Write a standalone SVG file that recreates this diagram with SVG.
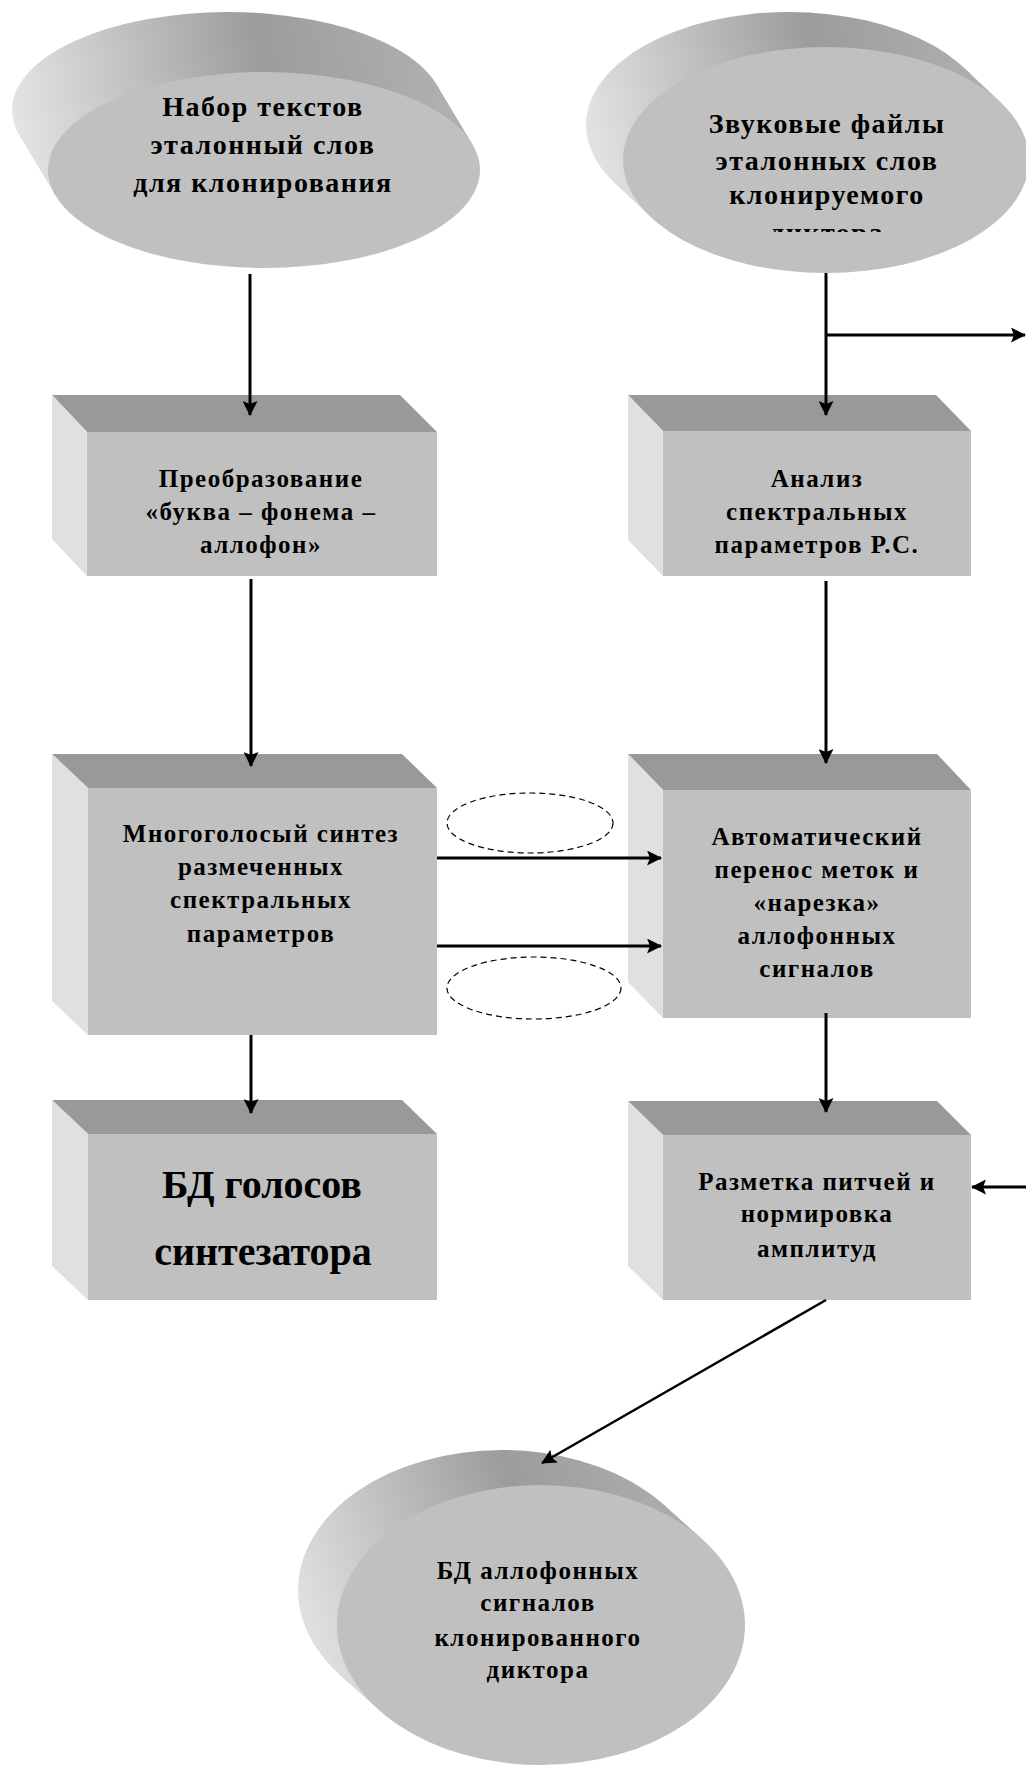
<svg xmlns="http://www.w3.org/2000/svg" width="1026" height="1768" viewBox="0 0 1026 1768">
<style>
.front{fill:#c0c0c0}
.top{fill:#999999}
.side{fill:#e0e0e0}
.t{font-family:"Liberation Serif","Times New Roman",serif;font-weight:bold;fill:#000;text-anchor:middle}
.e{font-size:28px;letter-spacing:1.5px}
.b{font-size:25px;letter-spacing:1.5px}
.big{font-size:40px}
.conn{stroke:#000;stroke-width:3;fill:none}
.thin{stroke-width:2.5}
.dash{stroke:#000;stroke-width:1.2;fill:none;stroke-dasharray:6 4}
</style>
<defs>
<marker id="ah" markerUnits="userSpaceOnUse" viewBox="0 0 15 15" markerWidth="15" markerHeight="15" refX="14" refY="7.5" orient="auto">
<path d="M0,0 L15,7.5 L0,15 L3,7.5 z" fill="#000"/>
</marker>
<linearGradient id="g1" gradientUnits="userSpaceOnUse" x1="12" y1="150" x2="480" y2="60">
<stop offset="0" stop-color="#e6e6e6"/><stop offset="0.55" stop-color="#9c9c9c"/><stop offset="1" stop-color="#b4b4b4"/>
</linearGradient>
<linearGradient id="g2" gradientUnits="userSpaceOnUse" x1="586" y1="170" x2="1026" y2="60">
<stop offset="0" stop-color="#e6e6e6"/><stop offset="0.55" stop-color="#9c9c9c"/><stop offset="1" stop-color="#b4b4b4"/>
</linearGradient>
<linearGradient id="g3" gradientUnits="userSpaceOnUse" x1="298" y1="1660" x2="745" y2="1500">
<stop offset="0" stop-color="#e6e6e6"/><stop offset="0.55" stop-color="#9c9c9c"/><stop offset="1" stop-color="#b4b4b4"/>
</linearGradient>
<clipPath id="clip2"><rect x="600" y="0" width="426" height="232"/></clipPath>
</defs>
<rect width="1026" height="1768" fill="#fff"/>

<g id="node-texts-set">
<ellipse cx="228" cy="110" rx="216" ry="98" fill="url(#g1)"/>
<polygon points="472.4,144.3 436.4,84.3 19.6,135.7 55.6,195.7" fill="url(#g1)"/>
<ellipse class="front" cx="264" cy="170" rx="216" ry="98"/>
<text class="t e" x="263" y="116">Набор текстов</text>
<text class="t e" x="263" y="154">эталонный слов</text>
<text class="t e" x="263" y="192">для клонирования</text>
</g>

<g id="node-sound-files">
<ellipse cx="789" cy="125" rx="203" ry="113" fill="url(#g2)"/>
<polygon points="1001,102.7 964,67.7 614,182.3 651,217.3" fill="url(#g2)"/>
<ellipse class="front" cx="826" cy="160" rx="203" ry="113"/>
<text class="t e" x="827" y="133">Звуковые файлы</text>
<text class="t e" x="827" y="170">эталонных слов</text>
<text class="t e" x="827" y="204">клонируемого</text>
<text class="t e" x="827" y="242" clip-path="url(#clip2)">диктора</text>
</g>

<g id="node-transform">
<polygon class="top" points="52,395 400,395 437,432 87,432"/>
<polygon class="side" points="52,395 87,432 87,576 52,539"/>
<rect class="front" x="87" y="432" width="350" height="144"/>
<text class="t b" x="261" y="487">Преобразование</text>
<text class="t b" x="261" y="520">«буква – фонема –</text>
<text class="t b" x="261" y="553">аллофон»</text>
</g>

<g id="node-analysis">
<polygon class="top" points="628,395 936,395 971,431 663,431"/>
<polygon class="side" points="628,395 663,431 663,576 628,540"/>
<rect class="front" x="663" y="431" width="308" height="145"/>
<text class="t b" x="817" y="487">Анализ</text>
<text class="t b" x="817" y="520">спектральных</text>
<text class="t b" x="817" y="553">параметров Р.С.</text>
</g>

<g id="node-synthesis">
<polygon class="top" points="52,754 402,754 437,788 88,788"/>
<polygon class="side" points="52,754 88,788 88,1035 52,1001"/>
<rect class="front" x="88" y="788" width="349" height="247"/>
<text class="t b" x="261" y="842">Многоголосый синтез</text>
<text class="t b" x="261" y="875">размеченных</text>
<text class="t b" x="261" y="908">спектральных</text>
<text class="t b" x="261" y="942">параметров</text>
</g>

<g id="node-auto-transfer">
<polygon class="top" points="628,754 937,754 971,790 663,790"/>
<polygon class="side" points="628,754 663,790 663,1018 628,982"/>
<rect class="front" x="663" y="790" width="308" height="228"/>
<text class="t b" x="817" y="845">Автоматический</text>
<text class="t b" x="817" y="878">перенос меток и</text>
<text class="t b" x="817" y="911">«нарезка»</text>
<text class="t b" x="817" y="944">аллофонных</text>
<text class="t b" x="817" y="977">сигналов</text>
</g>

<g id="node-voices-db">
<polygon class="top" points="52,1100 402,1100 437,1134 88,1134"/>
<polygon class="side" points="52,1100 88,1134 88,1300 52,1266"/>
<rect class="front" x="88" y="1134" width="349" height="166"/>
<text class="t big" x="262" y="1198">БД голосов</text>
<text class="t big" x="263" y="1265">синтезатора</text>
</g>

<g id="node-pitch">
<polygon class="top" points="628,1101 937,1101 971,1135 663,1135"/>
<polygon class="side" points="628,1101 663,1135 663,1300 628,1266"/>
<rect class="front" x="663" y="1135" width="308" height="165"/>
<text class="t b" x="817" y="1190">Разметка питчей и</text>
<text class="t b" x="817" y="1222">нормировка</text>
<text class="t b" x="817" y="1257">амплитуд</text>
</g>

<g id="node-allophone-db">
<ellipse cx="502" cy="1590" rx="204" ry="140" fill="url(#g3)"/>
<polygon points="703.1,1540 664.1,1505 339.9,1675 378.9,1710" fill="url(#g3)"/>
<ellipse class="front" cx="541" cy="1625" rx="204" ry="140"/>
<text class="t b" x="538" y="1579">БД аллофонных</text>
<text class="t b" x="538" y="1611">сигналов</text>
<text class="t b" x="538" y="1646">клонированного</text>
<text class="t b" x="538" y="1678">диктора</text>
</g>

<g id="dashed-marks">
<ellipse class="dash" cx="530" cy="823" rx="83" ry="30"/>
<ellipse class="dash" cx="534" cy="988" rx="87" ry="31"/>
</g>

<g id="connectors">
<line class="conn" x1="250" y1="274" x2="250" y2="415" marker-end="url(#ah)"/>
<line class="conn" x1="251" y1="579" x2="251" y2="766" marker-end="url(#ah)"/>
<line class="conn" x1="251" y1="1035" x2="251" y2="1113" marker-end="url(#ah)"/>
<line class="conn" x1="826" y1="273" x2="826" y2="415" marker-end="url(#ah)"/>
<line class="conn" x1="826" y1="335" x2="1025" y2="335" marker-end="url(#ah)"/>
<line class="conn" x1="826" y1="581" x2="826" y2="763" marker-end="url(#ah)"/>
<line class="conn" x1="826" y1="1013" x2="826" y2="1112" marker-end="url(#ah)"/>
<line class="conn" x1="1026" y1="1187" x2="972" y2="1187" marker-end="url(#ah)"/>
<line class="conn thin" x1="826" y1="1300" x2="542" y2="1463" marker-end="url(#ah)"/>
<line class="conn" x1="437" y1="858" x2="661" y2="858" marker-end="url(#ah)"/>
<line class="conn" x1="437" y1="946" x2="661" y2="946" marker-end="url(#ah)"/>
</g>
</svg>
